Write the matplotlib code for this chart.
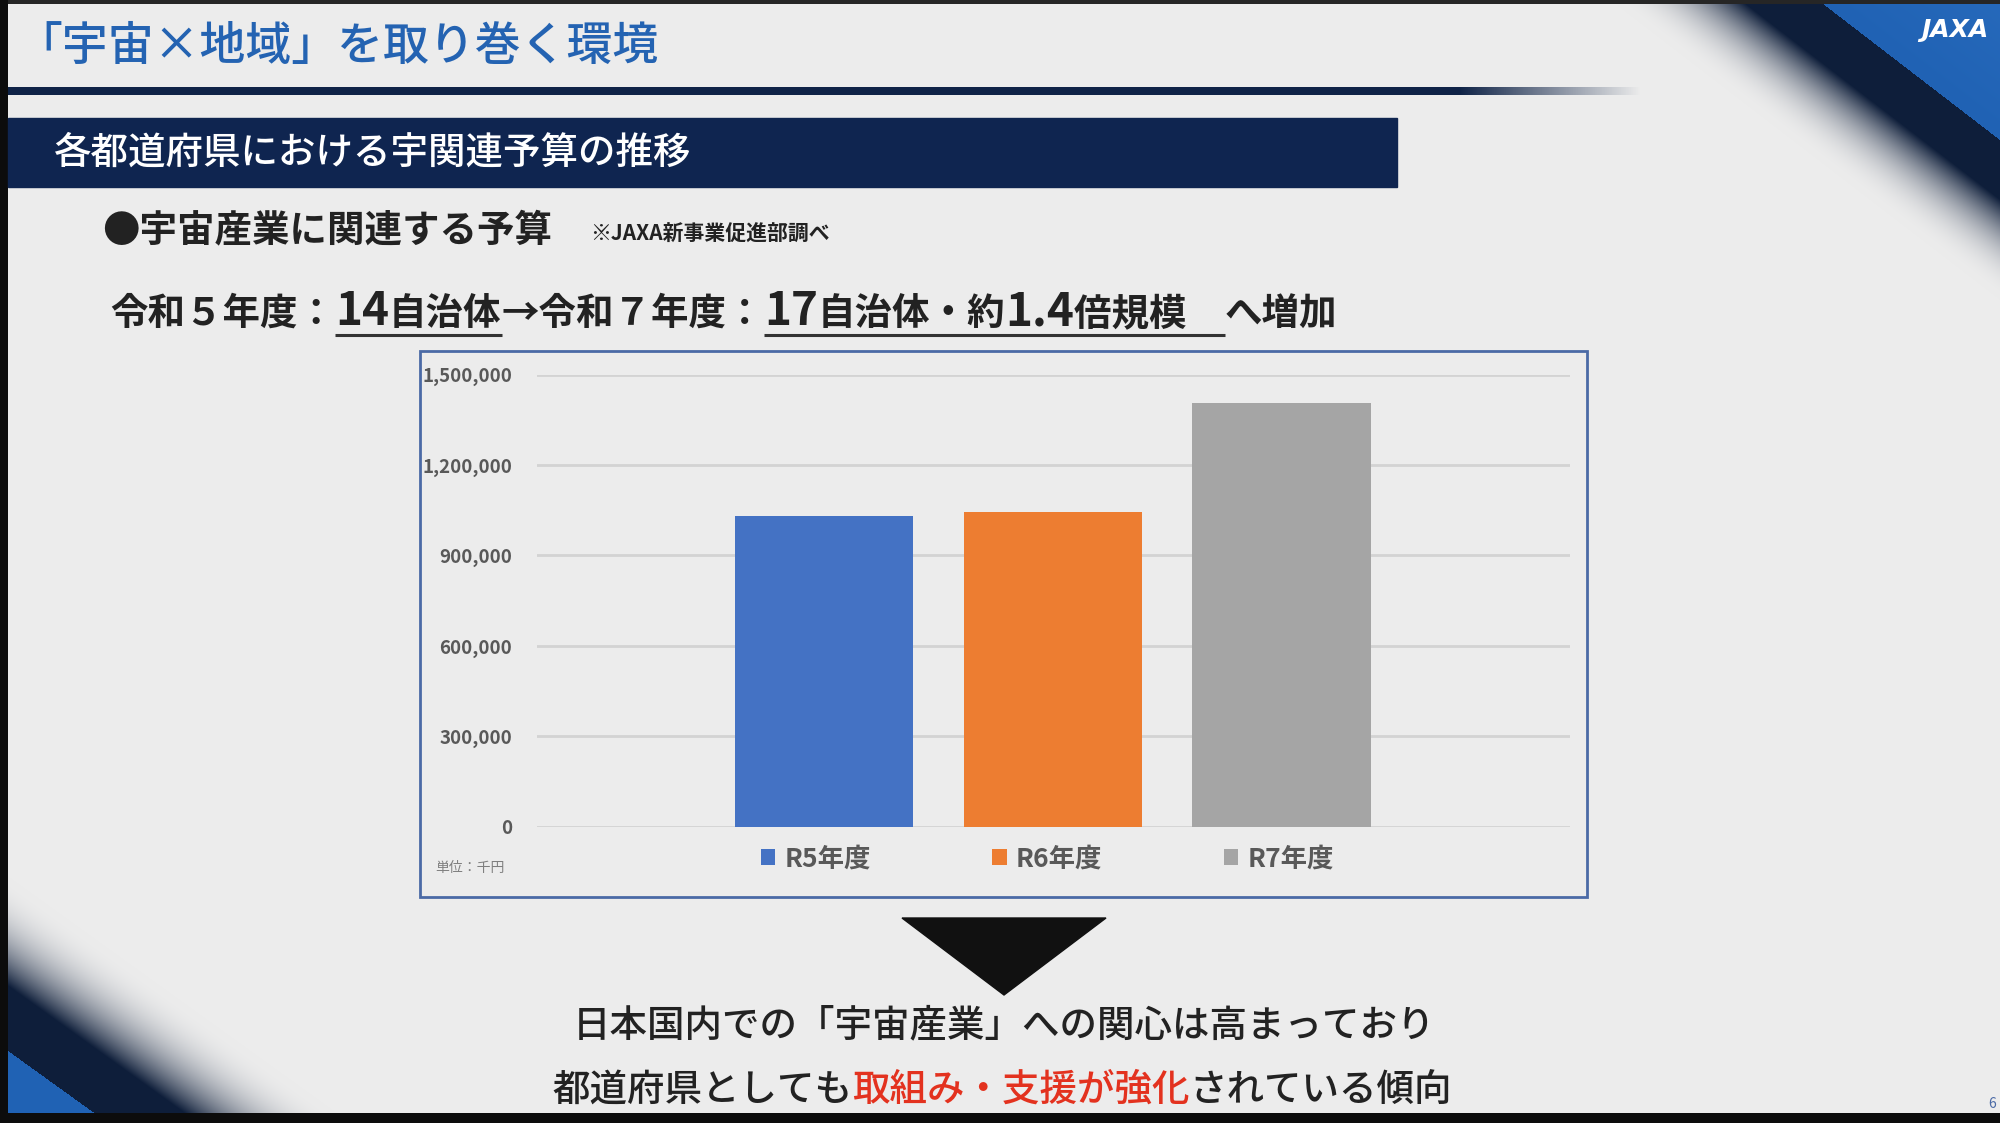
import numpy as np
import matplotlib
matplotlib.use('Agg')
import matplotlib.pyplot as plt
from matplotlib.patches import Rectangle, Polygon

plt.rcParams['font.family'] = ['Noto Sans CJK JP', 'DejaVu Sans']

# Budget for space industry, by fiscal year (unit: 1,000 yen)
years = ['R5年度', 'R6年度', 'R7年度']
budget = [1030000, 1043000, 1407000]
bar_colors = ['#4472c4', '#ed7d31', '#a5a5a5']
yticks = [0, 300000, 600000, 900000, 1200000, 1500000]

W, H = 2000, 1123
NAVY = '#0f2550'
TEXT = '#222222'
GREY = '#595959'


def slide_background():
    '''Light grey slide with the blue diagonal corners'''
    yy, xx = np.mgrid[0:H, 0:W].astype(float)
    bg = np.array([236, 236, 236]) / 255
    navy = np.array([14, 30, 58]) / 255
    blue = np.array([32, 98, 180]) / 255
    img = np.ones((H, W, 3)) * bg

    # top right corner
    u = xx - yy * 1.3
    t = np.clip((u - 1610) / (1741 - 1610), 0, 1) ** 2.2
    img = img * (1 - t[..., None]) + navy * t[..., None]
    tb = np.clip((u - 1818) / 200, 0, 1)
    corner = u > 1818
    img[corner] = (blue * (1 - 0.25 * tb[..., None]) + 0.25 * tb[..., None] * np.array([60, 130, 210]) / 255)[corner]

    # bottom left corner
    v = yy - xx * 0.72
    t = np.clip((v - 870) / (980 - 870), 0, 1) ** 2.2
    img = img * (1 - t[..., None]) + navy * t[..., None]
    img[v > 1045] = blue

    # frame edges
    img[:4, :] = 0.15
    img[:, :8] = 0.05
    img[1113:, :] = 0.05
    return img


def text_runs(ax, x, y, runs, renderer):
    '''Draw pieces of text one after another on a shared baseline'''
    spans = []
    for s, size, color, uline in runs:
        t = ax.text(x, y, s, fontsize=size, color=color, fontweight='bold',
                    ha='left', va='baseline')
        w = t.get_window_extent(renderer=renderer).width
        if uline:
            spans.append((x, x + w))
        x += w
    return spans


fig = plt.figure(figsize=(W / 100, H / 100), dpi=100)
bg = fig.add_axes([0, 0, 1, 1])
bg.set_xlim(0, W)
bg.set_ylim(H, 0)
bg.axis('off')
bg.imshow(slide_background(), extent=(0, W, H, 0), aspect='auto', zorder=0)
renderer = fig.canvas.get_renderer()

# title and rule under it (fading out to the right)
bg.text(16, 46, '「宇宙×地域」を取り巻く環境', fontsize=33, color='#2463b2',
        ha='left', va='center', fontweight='medium')
rule = np.zeros((1, 1632, 4))
rule[..., :3] = np.array([15, 35, 71]) / 255
rule[..., 3] = np.clip((1640 - np.arange(8, 1640)) / 180, 0, 1)
bg.imshow(rule, extent=(8, 1640, 95, 87), aspect='auto', zorder=2)

# navy banner
bg.add_patch(Rectangle((8, 118), 1389, 69, color=NAVY, zorder=2))
bg.text(54, 153, '各都道府県における宇関連予算の推移', fontsize=27, color='white',
        ha='left', va='center', fontweight='medium', zorder=3)

bg.text(102, 230, '●宇宙産業に関連する予算', fontsize=27, color=TEXT,
        ha='left', va='center', fontweight='bold')
bg.text(590, 234, '※JAXA新事業促進部調べ', fontsize=15, color=TEXT,
        ha='left', va='center', fontweight='bold')

runs = [('令和５年度：', 27, TEXT, False),
        ('14', 33, TEXT, True),
        ('自治体', 27, TEXT, True),
        ('→令和７年度：', 27, TEXT, False),
        ('17', 33, TEXT, True),
        ('自治体・約', 27, TEXT, True),
        ('1.4', 33, TEXT, True),
        ('倍規模　', 27, TEXT, True),
        ('へ増加', 27, TEXT, False)]
spans = text_runs(bg, 110, 325, runs, renderer)
# join neighbouring underlined pieces
joined = []
for a, b in spans:
    if joined and abs(joined[-1][1] - a) < 1:
        joined[-1] = (joined[-1][0], b)
    else:
        joined.append((a, b))
for a, b in joined:
    bg.plot([a, b], [335, 335], color='#333333', lw=2.2, solid_capstyle='butt')

# chart frame
bg.add_patch(Rectangle((420, 351), 1167, 546, fill=False, ec='#4b6aa6', lw=2, zorder=2))
bg.text(435, 868, '単位：千円', fontsize=10, color='#7f7f7f', ha='left', va='center')

# bar chart
ax = fig.add_axes([537 / W, (H - 826.8) / H, 1033 / W, 452.2 / H])
ax.patch.set_visible(False)
x = np.arange(len(years))
bars = ax.bar(x, budget, width=0.78, color=bar_colors, zorder=3)
ax.set_xlim(-1.255, 3.262)
ax.set_ylim(0, 1500000)
ax.set_yticks(yticks)
ax.set_yticklabels([f'{v:,}' for v in yticks])
ax.set_xticks([])
ax.yaxis.grid(True, color='#d3d3d3', lw=2)
ax.set_axisbelow(True)
for s in ax.spines.values():
    s.set_visible(False)
ax.tick_params(axis='y', length=0, pad=18, labelsize=13.5, labelcolor=GREY)
for lab in ax.get_yticklabels():
    lab.set_fontweight('bold')
ax.legend(bars.patches, years, loc='center', bbox_to_anchor=(0.494, -0.071),
          ncol=3, frameon=False, handlelength=0.55, handleheight=0.55,
          handletextpad=0.35, columnspacing=4.6, borderpad=0,
          prop={'size': 19, 'weight': 'bold'}, labelcolor=GREY)

# arrow and conclusion
bg.add_patch(Polygon([(902, 918), (1106, 918), (1004, 995)], closed=True,
                     color='#111111', zorder=2))
bg.text(1004, 1025, '日本国内での「宇宙産業」への関心は高まっており', fontsize=27,
        color=TEXT, ha='center', va='center', fontweight='medium')
line2 = [('都道府県としても', TEXT), ('取組み・支援が強化', '#e3321f'), ('されている傾向', TEXT)]
tmp = [bg.text(0, 0, s, fontsize=27, fontweight='medium') for s, c in line2]
widths = [t.get_window_extent(renderer=renderer).width for t in tmp]
for t in tmp:
    t.remove()
xpos = 1002 - sum(widths) / 2
for (s, c), w in zip(line2, widths):
    bg.text(xpos, 1090, s, fontsize=27, color=c, ha='left', va='center',
            fontweight='medium')
    xpos += w

# logo and page number
bg.text(1955, 30, 'JAXA', fontsize=18, color='white', family='DejaVu Sans',
        style='italic', fontweight='bold', ha='center', va='center')
bg.text(1992, 1104, '6', fontsize=10, color='#4b6aa6', ha='center', va='center')

fig.savefig('out.png', dpi=100)
